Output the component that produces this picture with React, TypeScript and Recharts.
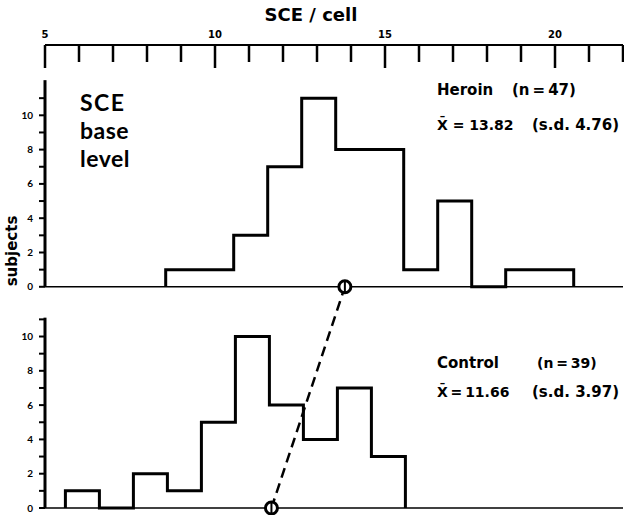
import React from "react";
import {
  ComposedChart,
  Line,
  XAxis,
  YAxis,
  ReferenceLine,
  ReferenceDot,
} from "recharts";

// SCE per cell axis
const xTicks = [5, 6, 7, 8, 9, 10, 11, 12, 13, 14, 15, 16, 17, 18, 19, 20, 21, 22];
const xLabelTicks = [5, 10, 15, 20];
const yTicks = [0, 1, 2, 3, 4, 5, 6, 7, 8, 9, 10, 11];

// heroin group: bin boundaries and number of subjects per bin
const heroinEdges = [8.55, 9.55, 10.55, 11.55, 12.55, 13.55, 14.55, 15.55, 16.55, 17.55, 18.55, 19.55, 20.55];
const heroinCounts = [1, 1, 3, 7, 11, 8, 8, 1, 5, 0, 1, 1];
const heroinMean = 13.82;

// control group
const controlEdges = [5.6, 6.6, 7.6, 8.6, 9.6, 10.6, 11.6, 12.6, 13.6, 14.6, 15.6];
const controlCounts = [1, 0, 2, 1, 5, 10, 6, 4, 7, 3];
const controlMean = 11.66;

// the heroin panel sits above the control panel on the same y scale
const TOP = 12.9;
const FONT = "'DejaVu Sans', sans-serif";
const BIG_FONT = "Lato, sans-serif";
const X_TICK_MARGIN = 6;

function stepPoints(edges: number[], counts: number[], base: number) {
  const pts = [{ x: edges[0], y: base }];
  counts.forEach((c, i) => pts.push({ x: edges[i], y: c + base }));
  pts.push({ x: edges[edges.length - 1], y: base });
  return pts;
}

function TopTick(props: any) {
  const { x, y, payload } = props;
  const v = payload.value;
  const major = v % 5 === 0;
  const axisY = y + X_TICK_MARGIN;
  return (
    <g>
      <line x1={x} x2={x} y1={axisY} y2={axisY + (major ? 23 : 17)} stroke="#000" strokeWidth={2.5} />
      {xLabelTicks.includes(v) && (
        <text x={x} y={y - 1} textAnchor="middle" fontSize={10} fontWeight={700} fontFamily={FONT} fill="#000">
          {v}
        </text>
      )}
    </g>
  );
}

function MeanMark(props: any) {
  const { cx, cy } = props;
  if (cx == null || cy == null) return null;
  return (
    <g>
      <circle cx={cx} cy={cy} r={6} fill="#fff" stroke="#000" strokeWidth={3} />
      <line x1={cx} x2={cx} y1={cy - 5.5} y2={cy + 5.5} stroke="#000" strokeWidth={2} />
    </g>
  );
}

export default function App() {
  const heroin = stepPoints(heroinEdges, heroinCounts, TOP);
  const control = stepPoints(controlEdges, controlCounts, 0);
  const allYTicks = [...yTicks, ...yTicks.map((t) => t + TOP)];

  return (
    <div style={{ position: "absolute", left: 0, top: 0, width: 624, height: 515, background: "#fff" }}>
      <ComposedChart width={624} height={515} margin={{ top: 0, right: 1, bottom: 7, left: 0 }}>
        <XAxis
          xAxisId={0}
          type="number"
          dataKey="x"
          orientation="top"
          domain={[5, 22]}
          ticks={xTicks}
          interval={0}
          height={45}
          tickSize={0}
          tickMargin={X_TICK_MARGIN}
          tickLine={false}
          axisLine={{ stroke: "#000", strokeWidth: 2 }}
          tick={<TopTick />}
        />
        <YAxis
          type="number"
          domain={[0, 27]}
          ticks={allYTicks}
          interval={0}
          width={45}
          axisLine={false}
          tickSize={6}
          tickMargin={6}
          tickLine={{ stroke: "#000", strokeWidth: 2 }}
          tick={{ fontSize: 10, fontWeight: 700, fill: "#000", fontFamily: BIG_FONT }}
          tickFormatter={(v: number) => {
            const n = Math.round(v >= TOP - 0.01 ? v - TOP : v);
            return n % 2 === 0 ? String(n) : "";
          }}
        />
        <ReferenceLine y={0} stroke="#000" strokeWidth={1.5} />
        <ReferenceLine y={TOP} stroke="#000" strokeWidth={1.5} />
        <ReferenceLine segment={[{ x: 5, y: 0 }, { x: 5, y: 11.1 }]} stroke="#000" strokeWidth={3} />
        <ReferenceLine segment={[{ x: 5, y: TOP }, { x: 5, y: TOP + 12.05 }]} stroke="#000" strokeWidth={3} />
        <Line
          data={heroin}
          dataKey="y"
          type="stepAfter"
          stroke="#000"
          strokeWidth={3}
          dot={false}
          isAnimationActive={false}
        />
        <Line
          data={control}
          dataKey="y"
          type="stepAfter"
          stroke="#000"
          strokeWidth={3}
          dot={false}
          isAnimationActive={false}
        />
        <ReferenceLine
          segment={[{ x: controlMean, y: 0 }, { x: heroinMean, y: TOP }]}
          stroke="#000"
          strokeWidth={2.5}
          strokeDasharray="10 6"
        />
        <ReferenceDot x={heroinMean} y={TOP} r={6} shape={(p: any) => <MeanMark {...p} />} />
        <ReferenceDot x={controlMean} y={0} r={6} shape={(p: any) => <MeanMark {...p} />} />
      </ComposedChart>
      <svg
        width={624}
        height={515}
        style={{ position: "absolute", left: 0, top: 0, pointerEvents: "none" }}
        fontFamily={FONT}
        fontWeight={700}
        fill="#000"
      >
        <text x={311} y={21} textAnchor="middle" fontSize={18}>SCE / cell</text>
        <text x={17} y={251} textAnchor="middle" fontSize={15} transform="rotate(-90 17 251)">subjects</text>
        <text x={80} y={111} fontSize={23} fontFamily={BIG_FONT} letterSpacing={1.5}>SCE</text>
        <text x={80} y={139} fontSize={23} fontFamily={BIG_FONT} letterSpacing={0.5}>base</text>
        <text x={80} y={167} fontSize={23} fontFamily={BIG_FONT} letterSpacing={0.5}>level</text>
        <text x={437} y={95} fontSize={15}>Heroin</text>
        <text x={512} y={95} fontSize={15}>(n{"\u2009"}={"\u2009"}47)</text>
        <text x={437} y={130} fontSize={14}>X̄ = 13.82</text>
        <text x={532} y={130} fontSize={15}>(s.d. 4.76)</text>
        <text x={437} y={368} fontSize={15}>Control</text>
        <text x={537} y={368} fontSize={14}>(n{"\u2009"}={"\u2009"}39)</text>
        <text x={437} y={397} fontSize={14}>X̄{"\u2009"}={"\u2009"}11.66</text>
        <text x={532} y={397} fontSize={15}>(s.d. 3.97)</text>
      </svg>
    </div>
  );
}
